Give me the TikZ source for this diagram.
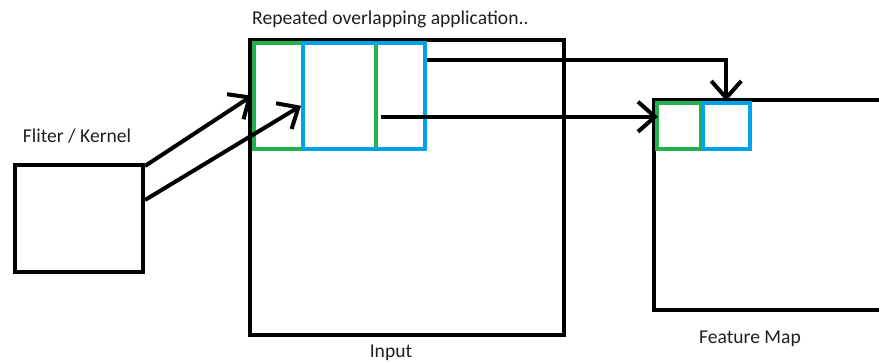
\documentclass[tikz,border=0pt]{standalone}
\usepackage{fontspec}
\setmainfont{Carlito}
\usetikzlibrary{arrows.meta}

\definecolor{paintgreen}{HTML}{22B14C}
\definecolor{paintblue}{HTML}{00A2E8}

\tikzset{
  blk/.style={draw=black, line width=4pt, anchor=north west, inner sep=0pt},
  grn/.style={draw=paintgreen, line width=3.5pt, anchor=north west, inner sep=0pt},
  blu/.style={draw=paintblue, line width=3.5pt, anchor=north west, inner sep=0pt},
  lbl/.style={font=\fontsize{19.6}{22}\selectfont, text=black!88, inner sep=0pt},
  arr/.style={line width=4pt, -{Straight Barb[length=17pt,width=30pt]}}
}

\begin{document}
\begin{tikzpicture}[x=1pt,y=-1pt]
    \useasboundingbox (0,0) rectangle (879,362);

    % Filter box on the left
    \node[blk, minimum width=128pt, minimum height=107pt] (kernel) at (13,163) {};

    % Input with the two overlapping windows
    \node[blk, minimum width=314pt, minimum height=295pt] (input) at (248,38) {};
    \node[grn, minimum width=122pt, minimum height=106pt] (win1) at (252,41) {};
    \node[blu, minimum width=122pt, minimum height=106pt] (win2) at (301,41) {};

    % Feature map, open on the right
    \coordinate (fmtop) at (879,100);
    \coordinate (fmbot) at (879,310);
    \draw[line width=4pt] (fmtop) -- (654,100) -- (654,310) -- (fmbot);
    \node[grn, minimum width=44pt, minimum height=46pt] (fm1) at (655,101) {};
    \node[blu, minimum width=47pt, minimum height=46pt] (fm2) at (701,101) {};

    % Labels
    \node[lbl, anchor=west] (ttl) at (252,19) {Repeated overlapping application..};
    \node[lbl] (klbl) at (77,136) {Fliter / Kernel};
    \node[lbl] (ilbl) at (391,353) {Input};
    \node[lbl] (flbl) at (750,339) {Feature Map};

    % Kernel applied to the windows
    \draw[arr] ([yshift=-3pt]kernel.north east) -- (win1.west);
    \draw[arr] ([yshift=-37pt]kernel.north east) -- ([yshift=-10pt]win2.west);

    % Windows mapped to the feature map
    \draw[arr] ([yshift=-19pt]win2.north east) -| (fm2.north);
    \draw[arr] ([xshift=3pt,yshift=-21pt]win1.east) -- ([xshift=3pt,yshift=-21pt]win1.east -| fm1.west);
\end{tikzpicture}
\end{document}
